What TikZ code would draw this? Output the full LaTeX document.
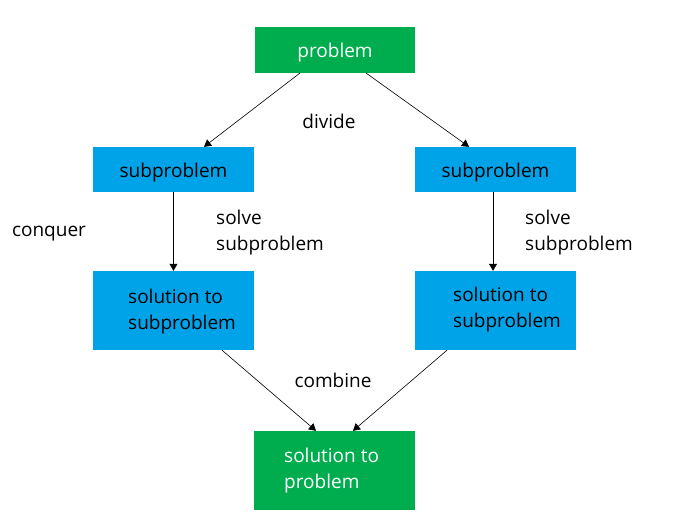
\documentclass[tikz,border=0pt]{standalone}
\usepackage{fontspec}
\setmainfont{Open Sans}
\usetikzlibrary{arrows.meta}
\definecolor{boxgreen}{RGB}{0,173,78}
\definecolor{boxblue}{RGB}{0,162,232}
\tikzset{
  txt/.style={font=\fontsize{19}{26}\selectfont},
  greenbox/.style={fill=boxgreen, inner sep=0pt},
  bluebox/.style={fill=boxblue, inner sep=0pt},
  lbl/.style={txt, text=black, align=left, inner sep=0pt},
  link/.style={draw=black, line width=0.6pt, -{Triangle[width=8pt,length=7pt]}}
}
\begin{document}
\begin{tikzpicture}[x=1pt,y=-1pt]
  \useasboundingbox (0,0) rectangle (676,525);
  % boxes
  \node[greenbox, minimum width=160, minimum height=46] (prob) at (335,50) {};
  \node[bluebox, minimum width=161, minimum height=45] (subL) at (173.5,169.5) {};
  \node[bluebox, minimum width=161, minimum height=45] (subR) at (495.5,169.5) {};
  \node[bluebox, minimum width=161, minimum height=79] (solL) at (173.5,310.5) {};
  \node[bluebox, minimum width=161, minimum height=79] (solR) at (495.5,310.5) {};
  \node[greenbox, minimum width=161, minimum height=79] (solP) at (334.5,470.5) {};
  % box texts
  \node[lbl, text=white] (tProb) at (335,53) {problem};
  \node[lbl] (tSubL) at (173.5,173) {subproblem};
  \node[lbl] (tSubR) at (495.5,173) {subproblem};
  \node[lbl, anchor=west] (tL) at (128,312) {solution to\\subproblem};
  \node[lbl, anchor=west] (tR) at (453,310) {solution to\\subproblem};
  \node[lbl, anchor=west, text=white] (tP) at (284,471) {solution to\\problem};
  % free labels
  \node[lbl] (divide) at (329,121) {divide};
  \node[lbl] (conquer) at (49,234) {conquer};
  \node[lbl, anchor=west] (solveL) at (216,233) {solve\\subproblem};
  \node[lbl, anchor=west] (solveR) at (525,233) {solve\\subproblem};
  \node[lbl] (combine) at (333,380) {combine};
  % connectors
  \coordinate (p1) at (300,73);
  \coordinate (p2) at (366,73);
  \draw[link] (p1) -- (subL.north -| 204,0);
  \draw[link] (p2) -- (subR.north -| 469,0);
  \draw[link] (subL.south) -- (solL.north);
  \draw[link] (subR.south -| 493,0) -- (solR.north -| 493,0);
  \draw[link] (solL.south -| 222,0) -- (solP.north -| 316,0);
  \draw[link] (solR.south -| 447,0) -- (solP.north -| 353,0);
\end{tikzpicture}
\end{document}
